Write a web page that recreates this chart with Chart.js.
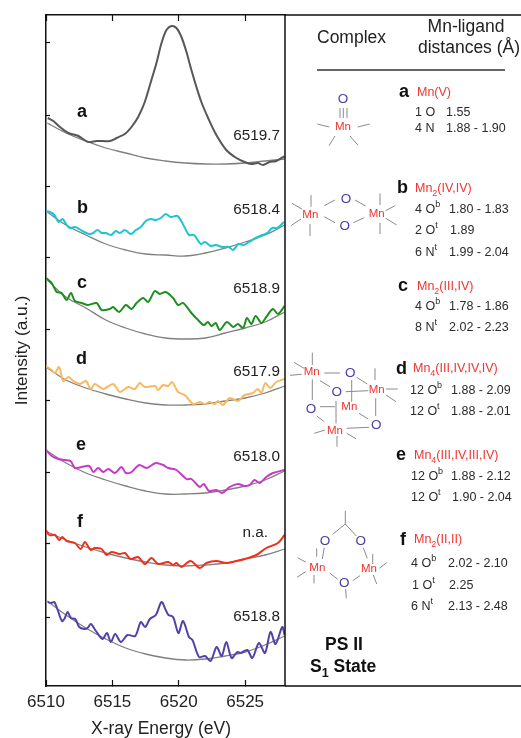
<!DOCTYPE html>
<html><head><meta charset="utf-8">
<style>html,body{margin:0;padding:0;background:#fff}canvas{display:block}</style>
<script src="https://cdn.jsdelivr.net/npm/chart.js@4"></script>
</head><body><canvas id="c" width="521" height="738"></canvas>
<script>
// Energies are stored as eV above 6510; intensities in arbitrary units.
const energyOrigin = 6510;
const xTitle = 'X-ray Energy (eV)', yTitle = 'Intensity (a.u.)';
const intensityTicks = [69,143,214,286,357,429,500,571,643];

const baselineE = [0.1,1.5,3,4.5,6,7.5,9,10.5,12,13.5,15,16.5,17.97];
const baseA = [563,553,545,538,533,528,525,523,522,522,523,525,527];
const baseB = [474,461,451,442,436,432,431,430,433,438,444,451,461];
const baseC = [406,389,378,366,358,352,348,347,348,353,358,364,374];
const baseD = [318,306,298,292,287,283,281,281,282,285,288,293,300];
const baseE = [235,223,213,206,200,195,192,192,193,196,200,206,215];
const baseF = [154,146,139,133,128,124,121,120,121,123,127,131,137];
const baseG = [85,71,58,47,38,32,28,26,27,30,34,41,50];

const eA = [.13,.55,1.05,1.68,2.43,3.18,3.81,4.81,5.31,5.94,6.44,6.94,7.44,7.94,8.32,8.7,9.07,9.45,9.82,10.2,10.58,10.95,11.33,11.7,12.21,12.83,13.58,14.34,14.96,15.46,15.96,16.34,16.84,17.34,17.97];
const iA = [568,565,559,553,550,544,545,545,548,552,559,569,584,606,623,643,656,660,658,649,634,616,599,584,568,551,536,528,524,522,523,521,524,525,530];

const eB = [0,.3,.63,.95,1.25,1.5,1.8,2.2,2.5,2.88,3.26,3.56,3.88,4.2,4.5,4.89,5.26,5.56,5.94,6.39,6.77,7.14,7.52,7.89,8.27,8.65,9.02,9.4,9.9,10.27,10.77,11.15,11.65,11.98,12.4,12.78,13.28,13.78,14.1,14.48,14.9,15.29,15.79,16.29,16.66,17.04,17.42,17.92];
const iB = [475,474,471,464,467,462,458,459,457,454,452,453,456,453,453,451,455,453,456,452,456,459,465,467,466,468,472,469,470,463,451,451,442,444,440,441,439,439,436,442,441,444,448,451,453,458,458,464];

const eC = [0,.43,.8,1.18,1.55,1.88,2.18,2.68,3.18,3.81,4.19,4.81,5.06,5.51,6.02,6.44,6.82,7.32,7.69,8.2,8.57,9.02,9.57,9.95,10.33,10.95,11.45,11.88,12.2,12.46,12.78,13.08,13.63,14.09,14.46,14.84,15.14,15.46,15.79,16.22,16.59,17.09,17.47,17.97];
const iC = [408,403,394,393,386,393,385,383,381,383,376,377,379,374,381,377,383,388,384,395,392,394,388,381,383,373,366,361,364,360,363,356,364,359,362,358,368,362,370,363,369,377,372,380];

const eD = [0,.43,.68,.98,1.3,1.68,2.06,2.56,3.01,3.36,3.68,4.31,5.06,5.56,6.19,6.69,7.07,7.44,8.2,8.45,8.82,9.2,9.5,9.95,10.45,11.08,11.58,11.95,12.33,12.71,12.96,13.33,13.83,14.46,14.96,15.59,15.96,16.22,16.52,16.89,17.34,17.97];
const iD = [320,316,313,319,305,309,305,302,305,297,302,297,302,294,299,297,303,299,300,296,301,300,304,294,291,282,284,282,284,282,285,281,288,285,291,293,297,293,303,298,304,307];

const eE = [0,.43,.93,1.43,1.85,2.18,2.68,3.26,3.56,3.93,4.31,4.69,5.19,5.69,6.02,6.44,7.02,7.57,8.27,8.82,9.2,9.82,10.58,10.95,11.58,11.88,12.28,12.83,13.28,13.83,14.46,14.96,15.34,15.71,16.09,16.59,17.09,17.97];
const iE = [236,230,227,226,225,218,219,220,214,218,214,217,213,219,213,214,221,218,223,221,218,216,207,207,199,202,195,196,193,199,202,200,201,206,203,209,213,216];

const eF = [0,.25,.68,1,1.23,1.55,2.18,2.61,2.93,3.36,3.68,4.19,4.56,4.94,5.56,5.94,6.37,6.94,7.44,7.94,8.45,9.2,9.57,9.82,10.2,10.88,11.58,12.08,12.83,13.58,14.34,14.96,15.84,16.59,17.47,17.97];
const iF = [156,151,151,146,149,145,143,137,144,136,138,137,131,134,132,133,127,129,122,128,122,124,121,123,119,125,118,123,125,123,125,127,131,138,143,151];

const eG = [.13,.38,.63,.88,1.2,1.38,1.63,1.88,2.2,2.5,2.88,3.13,3.38,3.76,4.26,4.59,4.89,5.21,5.64,6.14,6.72,7.14,7.47,7.82,8.27,8.7,9.02,9.22,9.57,9.97,10.32,10.77,11.03,11.53,11.98,12.4,12.85,13.23,13.58,13.98,14.41,14.66,15.16,15.54,16.04,16.49,16.91,17.29,17.79,17.97];
const iG = [84,83,84,76,65,67,74,68,67,59,57,58,62,55,47,53,44,52,44,51,50,64,59,67,71,84,76,71,69,53,65,49,46,29,30,25,39,30,44,28,34,33,36,28,43,33,54,42,59,51];

const colorA='#575757', colorB='#1cc6d0', colorC='#1d8f20', colorD='#f9b95f', colorE='#c63ac8', colorF='#f1301c', colorG='#5142ab';
const baseColor='#808080';

const pts=(e,v)=>e.map((x,i)=>({x:energyOrigin+x,y:v[i]}));
const base=v=>({data:pts(baselineE,v),borderColor:baseColor,borderWidth:1.3,pointRadius:0,tension:.4,order:2});
const trace=(e,v,c)=>({data:pts(e,v),borderColor:c,borderWidth:2,pointRadius:0,tension:.3,order:1});

// ---- annotation tables ----
const INK='#2b2b2b', RED='#f2332e', BLUE='#4a3fa8', BOND='#8a8a8a';
const traceLetters=[['a',77,112],['b',77,208],['c',77,283],['d',76,359],['e',76,445],['f',77,522]];
const peakLabels=[['6519.7',280,136],['6518.4',280,210],['6518.9',280,289],['6517.9',280,372],['6518.0',280,457],['n.a.',268,533],['6518.8',280,617]];
const sideLetters=[['a',399,92],['b',397,188],['c',398,286],['d',396,369],['e',396,455],['f',400,540]];
const complexes=[['Mn(V)',417,93],['Mn_2(IV,IV)',415,189],['Mn_2(III,IV)',417,287],['Mn_4(III,IV,IV,IV)',413,369],['Mn_4(III,IV,III,IV)',414,456],['Mn_2(II,II)',414,540]];
const distances=[
['1 O',415,113],['1.55',446,113],['4 N',415,129],['1.88 - 1.90',446,129],
['4 O^b',415,210],['1.80 - 1.83',449,210],['2 O^t',415,231],['1.89',450,231],['6 N^t',415,253],['1.99 - 2.04',449,253],
['4 O^b',415,307],['1.78 - 1.86',449,307],['8 N^t',415,328],['2.02 - 2.23',449,328],
['12 O^b',410,391],['1.88 - 2.09',451,391],['12 O^t',410,412],['1.88 - 2.01',451,412],
['12 O^b',411,477],['1.88 - 2.12',451,477],['12 O^t',411,498],['1.90 - 2.04',452,498],
['4 O^b',411,564],['2.02 - 2.10',448,564],['1 O^t',412,586],['2.25',449,586],['6 N^t',411,607],['2.13 - 2.48',448,607]];
const atomsMn=[[343,127],[310.3,215],[376.7,214.3],[311.7,372],[376.7,390],[349.3,406.7],[335,431],[317.3,567.7],[369,569.3]];
const atomsO=[[343,99],[346,199.3],[344.7,226.3],[350.3,373.3],[336.7,392.3],[311,409],[376.3,425],[325,541.7],[360.7,541.7],[344.3,583.7]];
const bonds=[
[340,108,340,118],[343.3,108,343.3,118],[347,108,347,118],[317.3,124,329.3,127],[357.7,127,369.7,124],[335,136,329,145.7],[350,136,358,145.3],
[292,203.3,302.3,209.3],[291,225.7,301,219],[311,195,311,206.7],[310,224,310,236],[324.3,205.7,335,200],[324.3,216.7,335,222.7],[355,200,365.7,206],[353.3,222.7,364.3,217.7],[380,193.3,380,205],[380,222.7,380,234],[385.7,210.7,395,205.7],[385.7,218.3,396.7,225],
[312.3,352.7,312.3,365],[294,362.3,304,368.3],[290,375.3,301.7,374.3],[324.3,373,340,373],[312.3,379.3,312.3,400],[320,380.7,330,386.7],[356.7,377.3,367.3,384],[351.7,380,351.7,401.7],[375,368.3,375,380],[345.7,391.7,368.3,390.7],[386,389,397.7,389],[386,395,396,401.7],[375.7,398.3,375.7,416],[359,413.3,368.3,419],[320,406.7,335,406.7],[336,400.7,336,423.3],[316.7,416,324.3,421.7],[346.7,428.3,369,427.3],[314.3,433.3,325,430],[346.7,433.3,356,438.7],[337,436,337,446.7],
[345.3,510.7,345.3,524],[345.3,524,332.7,534.3],[345.3,524,356.3,536],[324.3,547.7,322.3,559],[316.7,548.3,316.7,556.7],[363.3,547.7,367.3,558.3],[372.7,554,372.7,564],[297.7,557.7,306,562.3],[297,577.3,305.7,571.7],[314,575,314,583.3],[330,573.3,337.7,579.3],[352.7,580.7,360,575.7],[379.3,568.3,386.7,562.7],[373.3,575,376.7,584],[345.7,589,346.3,598.3]];

const FONT='"Liberation Sans", Arial, sans-serif';
function rich(ctx,str,x,y,size,color,weight){
  // "_" starts a one-character subscript, "^" a one-character superscript
  ctx.fillStyle=color; ctx.textBaseline='middle'; ctx.textAlign='left';
  let cx=x;
  for(const part of str.split(/(?=[_^].)|(?<=[_^].)/)){
    if(part[0]==='_'||part[0]==='^'){
      const sub=part[0]==='_';
      ctx.font=`${weight||''} ${size*.72}px ${FONT}`;
      ctx.fillText(part[1],cx,y+(sub?size*.38:-size*.42));
      cx+=ctx.measureText(part[1]).width;
    } else {
      ctx.font=`${weight||''} ${size}px ${FONT}`;
      ctx.fillText(part,cx,y);
      cx+=ctx.measureText(part).width;
    }
  }
}
const panelPlugin={id:'panel',afterDraw(chart){
  const ctx=chart.ctx,a=chart.chartArea; ctx.save();
  // frame
  ctx.strokeStyle='#111'; ctx.lineWidth=1.5; ctx.beginPath();
  ctx.moveTo(a.right,a.top); ctx.lineTo(521,a.top);
  ctx.moveTo(a.right,a.bottom); ctx.lineTo(521,a.bottom);
  ctx.moveTo(a.right,a.top); ctx.lineTo(a.right,a.bottom); ctx.stroke();
  ctx.strokeStyle='#333'; ctx.beginPath(); ctx.moveTo(317,70); ctx.lineTo(505,70); ctx.stroke();
  // headings
  ctx.fillStyle='#222'; ctx.textBaseline='middle'; ctx.textAlign='left'; ctx.font=`17.5px ${FONT}`;
  ctx.fillText('Complex',317,38);
  ctx.textAlign='center';
  ctx.fillText('Mn-ligand',466,27); ctx.fillText('distances (Å)',469,48);
  ctx.fillText(xTitle,161,729);
  ctx.textAlign='left';
  // trace labels
  ctx.font=`bold 18px ${FONT}`; ctx.fillStyle='#111'; ctx.textAlign='left';
  for(const [t,x,y] of traceLetters) ctx.fillText(t,x,y);
  for(const [t,x,y] of sideLetters) ctx.fillText(t,x,y);
  ctx.font=`15.3px ${FONT}`; ctx.fillStyle='#222'; ctx.textAlign='right';
  for(const [t,x,y] of peakLabels) ctx.fillText(t,x,y);
  // side table
  for(const [t,x,y] of complexes) rich(ctx,t,x,y,12.5,RED);
  for(const [t,x,y] of distances) rich(ctx,t,x,y,12.5,INK);
  // structures
  ctx.strokeStyle=BOND; ctx.lineWidth=1; ctx.beginPath();
  for(const [x1,y1,x2,y2] of bonds){ctx.moveTo(x1,y1);ctx.lineTo(x2,y2);} ctx.stroke();
  ctx.textAlign='center'; ctx.textBaseline='middle';
  ctx.font=`11.5px ${FONT}`; ctx.fillStyle=RED;
  for(const [x,y] of atomsMn) ctx.fillText('Mn',x,y);
  ctx.font=`13.5px ${FONT}`; ctx.fillStyle=BLUE;
  for(const [x,y] of atomsO) ctx.fillText('O',x,y);
  // PS II
  ctx.fillStyle='#111'; ctx.font=`bold 17.5px ${FONT}`; ctx.textAlign='center';
  ctx.fillText('PS II',344,645);
  ctx.textAlign='left';
  rich(ctx,'S_1 State',310,667,17.5,'#111','bold');
  ctx.restore();
}};

Chart.defaults.font.family=FONT;
new Chart(document.getElementById('c'),{
  type:'line',
  data:{datasets:[base(baseA),base(baseB),base(baseC),base(baseD),base(baseE),base(baseF),base(baseG),
    trace(eA,iA,colorA),trace(eB,iB,colorB),trace(eC,iC,colorC),trace(eD,iD,colorD),trace(eE,iE,colorE),trace(eF,iF,colorF),trace(eG,iG,colorG)]},
  options:{
    responsive:false,animation:false,
    layout:{padding:{top:15,right:236,left:0,bottom:0}},
    plugins:{legend:{display:false},tooltip:{enabled:false}},
    scales:{
      x:{type:'linear',position:'bottom',min:6510,max:6528,
        afterFit(s){s.height=52;},
        grid:{drawOnChartArea:false,tickLength:-6,color:'#111',tickWidth:1.2},
        border:{color:'#111',width:1.5},
        ticks:{stepSize:5,includeBounds:false,maxRotation:0,padding:12,color:'#222',font:{size:17},callback:v=>String(v)}},
      x2:{type:'linear',position:'top',min:6510,max:6528,
        afterFit(s){s.height=0;},
        grid:{drawOnChartArea:false,tickLength:-6,color:'#111',tickWidth:1.2},
        border:{color:'#111',width:1.5},
        ticks:{stepSize:5,includeBounds:false,display:false}},
      y:{type:'linear',position:'left',min:0,max:671,
        afterFit(s){s.width=46;},
        afterBuildTicks(s){s.ticks=intensityTicks.map(v=>({value:v}));},
        grid:{drawOnChartArea:false,tickLength:-4,color:'#111',tickWidth:1.2},
        border:{color:'#111',width:1.5},
        ticks:{display:false},
        title:{display:true,text:yTitle,color:'#222',font:{size:17.3,lineHeight:1.2},padding:{top:12,bottom:0}}}
    }
  },
  plugins:[panelPlugin]
});
</script></body></html>
